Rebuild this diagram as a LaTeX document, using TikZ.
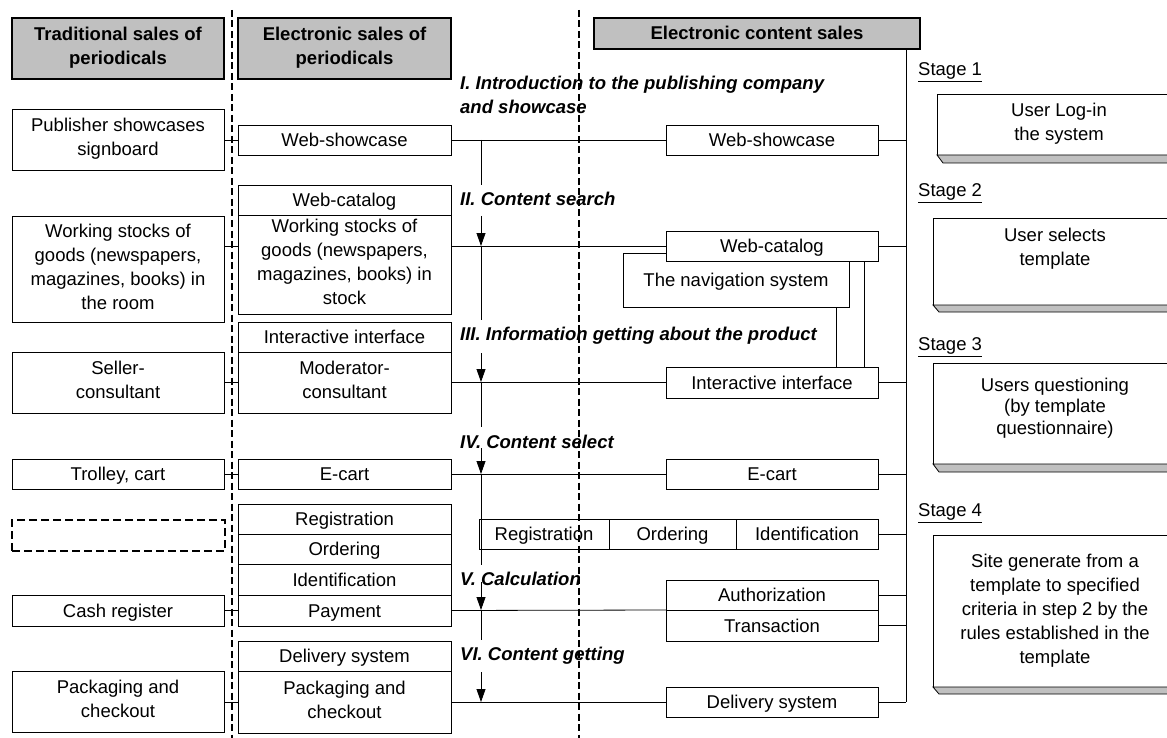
\documentclass[tikz,border=0pt]{standalone}
\usepackage{fontspec}
\setmainfont{Liberation Sans}
\usetikzlibrary{arrows.meta}
\definecolor{headgray}{HTML}{C0C0C0}
\newcommand{\dgfont}{\fontsize{18.5}{24}\selectfont}
\newcommand{\boxstrut}{\rule[-5pt]{0pt}{23pt}}

\begin{document}
\begin{tikzpicture}[x=1pt,y=-1pt,font=\dgfont,
  box/.style={draw,line width=0.8pt,fill=white,inner sep=0pt,outer sep=0pt,align=center,minimum height=30pt,
    execute at begin node=\boxstrut,execute at end node=\boxstrut},
  colbox/.style={box,minimum width=212pt},
  head/.style={box,line width=1.6pt,fill=headgray,font=\dgfont\bfseries},
  emptybox/.style={draw,line width=1.5pt,dash pattern=on 8pt off 4pt,inner sep=0pt,minimum width=213pt,minimum height=31pt},
  divider/.style={line width=1.5pt,dash pattern=on 7pt off 3.5pt},
  link/.style={line width=0.8pt},
  flow/.style={link,-{Triangle[length=13pt,width=9pt]}},
  phase/.style={anchor=west,inner sep=0pt,align=left,font=\dgfont\bfseries\itshape},
  stagename/.style={anchor=west,inner sep=0pt},
  stagebox/.style={box,anchor=north west,minimum width=244pt},
  bevel/.style={draw,line width=0.8pt,fill=headgray}]

\useasboundingbox (0,0) rectangle (1167,738);

% headers
\node[head,minimum width=212pt,minimum height=61pt] (h1) at (118,48.5) {Traditional sales of\\periodicals};
\node[head,minimum width=213pt,minimum height=61pt] (h2) at (344.5,48.5) {Electronic sales of\\periodicals};
\node[head,minimum width=326pt,minimum height=31pt] (h3) at (757,33.5) {Electronic content sales};

% rows and tracks
\coordinate (r1) at (0,140);
\coordinate (r2) at (0,246);
\coordinate (r3) at (0,382);
\coordinate (r4) at (0,474);
\coordinate (r5) at (0,610);
\coordinate (r6) at (0,702);
\coordinate (trk) at (481,0);
\coordinate (bus) at (906,0);

% traditional sales
\node[colbox,minimum height=61pt] (pub) at (118,139.5) {Publisher showcases\\signboard};
\node[colbox,minimum height=106pt] (stock) at (118,269) {Working stocks of\\goods (newspapers,\\magazines, books) in\\the room};
\node[colbox,minimum height=61pt] (seller) at (118,382.5) {Seller-\\consultant};
\node[colbox] (trolley) at (118,474) {Trolley, cart};
\node[emptybox] (blank) at (118.5,535.5) {};
\node[colbox,minimum height=31pt] (cash) at (118,610.5) {Cash register};
\node[colbox,minimum height=61pt] (pack) at (118,701.5) {Packaging and\\checkout};

% electronic sales of periodicals
\node[colbox,minimum width=213pt] (wsA) at (344.5,140) {Web-showcase};
\node[colbox,minimum width=213pt] (wcA) at (344.5,200) {Web-catalog};
\node[colbox,minimum width=213pt,minimum height=99pt] (stockA) at (344.5,264.5) {Working stocks of\\goods (newspapers,\\magazines, books) in\\stock};
\node[colbox,minimum width=213pt] (iiA) at (344.5,337) {Interactive interface};
\node[colbox,minimum width=213pt,minimum height=61pt] (modA) at (344.5,382.5) {Moderator-\\consultant};
\node[colbox,minimum width=213pt] (ecA) at (344.5,474) {E-cart};
\node[colbox,minimum width=213pt] (regA) at (344.5,519) {Registration};
\node[colbox,minimum width=213pt] (ordA) at (344.5,549) {Ordering};
\node[colbox,minimum width=213pt,minimum height=31pt] (idA) at (344.5,579.5) {Identification};
\node[colbox,minimum width=213pt,minimum height=31pt] (payA) at (344.5,610.5) {Payment};
\node[colbox,minimum width=213pt] (dsA) at (344.5,656) {Delivery system};
\node[colbox,minimum width=213pt,minimum height=62pt] (packA) at (344.5,702) {Packaging and\\checkout};

% electronic content sales
\node[colbox] (wsB) at (772,140) {Web-showcase};
\node[box,minimum width=226pt,minimum height=54pt] (nav) at (736,280) {The navigation system};
\node[colbox] (wcB) at (772,246) {Web-catalog};
\node[colbox,minimum height=31pt] (iiB) at (772,382.5) {Interactive interface};
\node[colbox] (ecB) at (772,474) {E-cart};
\node[box,minimum width=130pt] (regB) at (544,534) {Registration};
\node[box,minimum width=127pt] (ordB) at (672.5,534) {Ordering};
\node[box,minimum width=142pt] (idB) at (807,534) {Identification};
\node[colbox] (authB) at (772,595) {Authorization};
\node[colbox,minimum height=31pt] (transB) at (772,625.5) {Transaction};
\node[colbox] (dsB) at (772,702) {Delivery system};

% phases
\node[phase] (ph1) at (460,94.5) {I. Introduction to the publishing company\\and showcase};
\node[phase] (ph2) at (460,199) {II. Content search};
\node[phase] (ph3) at (460,336) {III. Information getting about the product};
\node[phase] (ph4) at (460,442) {IV. Content select};
\node[phase] (ph5) at (460,579) {V. Calculation};
\node[phase] (ph6) at (460,656) {VI. Content getting};

\coordinate (g1) at (481,185);
\coordinate (g2) at (481,216);
\coordinate (g3) at (481,320);
\coordinate (g4) at (481,353);
\coordinate (g5) at (481,427);
\coordinate (g6) at (481,448);
\coordinate (g7) at (481,565);
\coordinate (g8) at (481,582);
\coordinate (g9) at (481,640);
\coordinate (g10) at (481,672);

% stages
\node[stagename] (st1) at (918,72) {\underline{Stage 1}};
\node[stagename] (st2) at (918,193) {\underline{Stage 2}};
\node[stagename] (st3) at (918,347) {\underline{Stage 3}};
\node[stagename] (st4) at (918,513) {\underline{Stage 4}};
\node[stagebox,minimum height=61pt] (s1) at (937,94) {User Log-in\\the system};
\node[stagebox,minimum height=87pt] (s2) at (933,218) {User selects\\template\\\mbox{}};
\node[stagebox,minimum height=101pt] (s3) at (933,363) {Users questioning\\[-2.5pt](by template\\[-2.5pt]questionnaire)\\[-14pt]\mbox{}};
\node[stagebox,minimum height=152pt] (s4) at (933,535) {Site generate from a\\template to specified\\criteria in step 2 by the\\rules established in the\\template};
\draw[bevel] (s1.south west) -- ++(6,8) -- ++(300,0) -- ++(0,-8) -- cycle;
\draw[bevel] (s2.south west) -- ++(6,7) -- ++(300,0) -- ++(0,-7) -- cycle;
\draw[bevel] (s3.south west) -- ++(6,8) -- ++(300,0) -- ++(0,-8) -- cycle;
\draw[bevel] (s4.south west) -- ++(6,7) -- ++(300,0) -- ++(0,-7) -- cycle;

% connectors
\draw[link] (pub.east |- r1) -- (wsA.west);
\draw[link] (wsA.east) -- (wsB.west);
\draw[link] (wsB.east) -- (bus |- wsB.east);
\draw[link] (stock.east |- r2) -- (stockA.west |- r2);
\draw[link] (stockA.east |- r2) -- (wcB.west);
\draw[link] (wcB.east) -- (bus |- wcB.east);
\draw[link] ([xshift=-13pt]nav.south east) -- ([xshift=-13pt]nav.south east |- iiB.north);
\draw[link] ([xshift=-14pt]wcB.south east) -- ([xshift=-14pt]wcB.south east |- iiB.north);
\draw[link] (seller.east) -- (modA.west);
\draw[link] (modA.east) -- (iiB.west);
\draw[link] (iiB.east) -- (bus |- iiB.east);
\draw[link] (trolley.east) -- (ecA.west);
\draw[link] (ecA.east) -- (ecB.west);
\draw[link] (ecB.east) -- (bus |- ecB.east);
\draw[link] (idB.east) -- (bus |- idB.east);
\draw[link] (cash.east) -- (payA.west);
\draw[link] (payA.east) -- (authB.south west);
\draw[link] (authB.east) -- (bus |- authB.east);
\draw[link] (transB.east) -- (bus |- transB.east);
\draw[link] (pack.east |- r6) -- (packA.west |- r6);
\draw[link] (packA.east |- r6) -- (dsB.west);
\draw[link] (dsB.east) -- (bus |- dsB.east);
\draw[link] (bus |- h3.south) -- (bus |- dsB.east);

% stage track
\draw[link] (trk |- r1) -- (g1);
\draw[flow] (g2) -- (trk |- r2);
\draw[link] (trk |- r2) -- (g3);
\draw[flow] (g4) -- (trk |- r3);
\draw[link] (trk |- r3) -- (g5);
\draw[flow] (g6) -- (trk |- r4);
\draw[link] (trk |- r4) -- (g7);
\draw[flow] (g8) -- (trk |- r5);
\draw[link] (trk |- r5) -- (g9);
\draw[flow] (g10) -- (trk |- r6);

% dividers
\coordinate (d1t) at (232,10);
\coordinate (d1b) at (232,738);
\coordinate (d2t) at (579,10);
\coordinate (d2b) at (579,738);
\draw[divider] (d1t) -- (d1b);
\draw[divider] (d2t) -- (d2b);

\end{tikzpicture}
\end{document}
